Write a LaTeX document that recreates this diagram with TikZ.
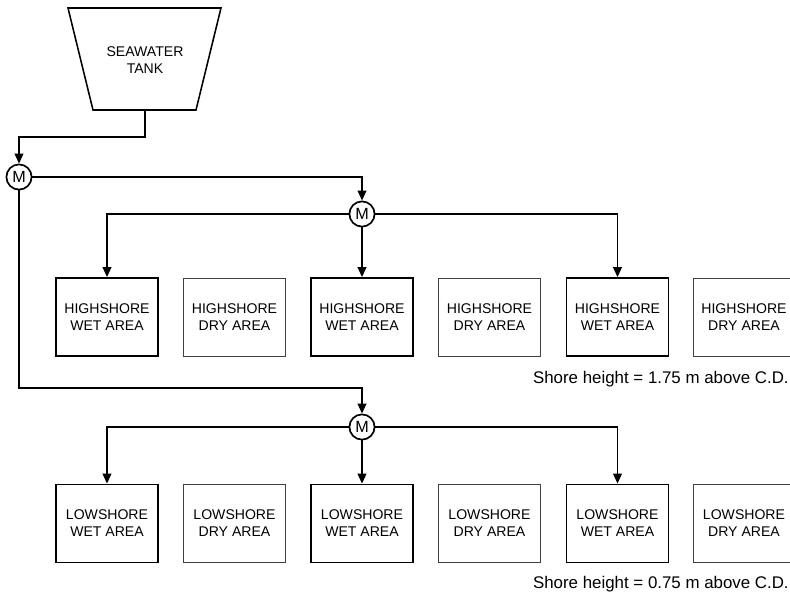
\documentclass[tikz,border=0pt]{standalone}
\usepackage{fontspec}
\setmainfont{Liberation Sans}
\usetikzlibrary{positioning,arrows.meta}

\tikzset{
  wetbox/.style={draw,line width=1.3pt,minimum width=2.55cm,minimum height=1.95cm,align=center,font=\fontsize{10}{12}\selectfont},
  drybox/.style={wetbox,line width=0.5pt,draw=black!75},
  mixer/.style={draw,circle,line width=1.2pt,minimum size=0.63cm,inner sep=0pt,font=\fontsize{11.5}{12}\selectfont},
  flow/.style={line width=1.1pt,-{Triangle[length=2.5mm,width=2.2mm]}},
  note/.style={anchor=base east,inner sep=0pt,font=\fontsize{12}{14}\selectfont},
}

\begin{document}
\begin{tikzpicture}[x=0.025cm,y=-0.025cm]
\useasboundingbox (0,0) rectangle (790,595);
% seawater tank
\draw[line width=1.1pt] (68,8) -- (221,8) -- (196,110) -- (93,110) -- cycle;
\node[align=center,font=\fontsize{10}{12}\selectfont] (tank) at (145,60) {SEAWATER\\TANK};
\coordinate (tankout) at (145,110);
% mixers
\node[mixer] (m1) at (19,177) {M};
\node[mixer] (m2) at (362,214) {M};
\node[mixer] (m3) at (362,427) {M};
\coordinate (bus) at (19,388);
% highshore row
\node[wetbox] (hw1) at (107,317) {HIGHSHORE\\WET AREA};
\node[drybox] (hd1) at (234.5,317) {HIGHSHORE\\DRY AREA};
\node[wetbox] (hw3) at (362,317) {HIGHSHORE\\WET AREA};
\node[drybox] (hd2) at (489.5,317) {HIGHSHORE\\DRY AREA};
\node[wetbox] (hw5) at (617.5,317) {HIGHSHORE\\WET AREA};
\node[drybox] (hd3) at (744,317) {HIGHSHORE\\DRY AREA};
\node[note] (hnote) at (789,383) {Shore height = 1.75 m above C.D.};
% lowshore row
\node[wetbox] (lw1) at (107,523.5) {LOWSHORE\\WET AREA};
\node[drybox] (ld1) at (234.5,523.5) {LOWSHORE\\DRY AREA};
\node[wetbox] (lw3) at (362,523.5) {LOWSHORE\\WET AREA};
\node[drybox] (ld2) at (489.5,523.5) {LOWSHORE\\DRY AREA};
\node[wetbox] (lw5) at (617.5,523.5) {LOWSHORE\\WET AREA};
\node[drybox] (ld3) at (744,523.5) {LOWSHORE\\DRY AREA};
\node[note] (lnote) at (789,588) {Shore height = 0.75 m above C.D.};
% pipes
\draw[flow] (tankout) -- ++(0,27) -| (m1.north);
\draw[flow] (m1.east) -| (m2.north);
\draw[flow] (m1.south) -- (bus) -| (m3.north);
\draw[flow] (m2.west) -| (hw1.north);
\draw[flow] (m2.south) -- (hw3.north);
\draw[flow] (m2.east) -| (hw5.north);
\draw[flow] (m3.west) -| (lw1.north);
\draw[flow] (m3.south) -- (lw3.north);
\draw[flow] (m3.east) -| (lw5.north);
\end{tikzpicture}
\end{document}
